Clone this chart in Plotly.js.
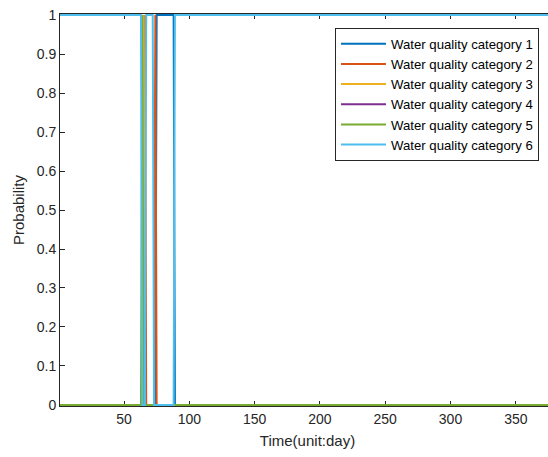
<!DOCTYPE html>
<html>
<head>
<meta charset="utf-8">
<script src="https://cdn.plot.ly/plotly-3.0.1.min.js"></script>
<style>
html,body{margin:0;padding:0;overflow:hidden;background:#fff;width:548px;height:457px;}
#chart{width:560px;height:457px;}
</style>
</head>
<body>
<div id="chart"></div>
<script>
// Category names
const names = ["Water quality category 1","Water quality category 2","Water quality category 3",
               "Water quality category 4","Water quality category 5","Water quality category 6"];
// Breakpoints (day, probability) for each category
const cat1Days = [1, 74, 75, 88, 89, 380];
const cat1Prob = [0, 0, 1, 1, 0, 0];
const cat2Days = [1, 65, 66, 67, 73, 74, 75, 380];
const cat2Prob = [0, 0, 1, 0, 0, 1, 0, 0];
const cat3Days = [1, 64, 65, 66, 380];
const cat3Prob = [0, 0, 1, 0, 0];
const cat4Days = [1, 72, 73, 74, 380];
const cat4Prob = [0, 0, 0, 0, 0];
const cat5Days = [1, 63, 64, 65, 380];
const cat5Prob = [0, 0, 1, 0, 0];
const cat6Days = [1, 63, 64, 66, 67, 72, 73, 88, 89, 380];
const cat6Prob = [1, 1, 0, 0, 1, 1, 0, 0, 1, 1];

const xTicks = [50,100,150,200,250,300,350];
const yTicks = [0,0.1,0.2,0.3,0.4,0.5,0.6,0.7,0.8,0.9,1];
const yTickText = ["0","0.1","0.2","0.3","0.4","0.5","0.6","0.7","0.8","0.9","1"];

const colors = ["#0072BD","#D95319","#EDB120","#7E2F8E","#77AC30","#4DBEEE"];
const allDays = [cat1Days,cat2Days,cat3Days,cat4Days,cat5Days,cat6Days];
const allProb = [cat1Prob,cat2Prob,cat3Prob,cat4Prob,cat5Prob,cat6Prob];

const traces = names.map((n,i)=>({
  x: allDays[i], y: allProb[i], name: n, type: "scatter", mode: "lines",
  line: {color: colors[i], width: 2}
}));

const axisColor = "#262626";
const layout = {
  width: 560, height: 457,
  margin: {l: 60, r: 5, t: 14, b: 51},
  paper_bgcolor: "#fff", plot_bgcolor: "#fff",
  font: {family: "Liberation Sans, Arial, sans-serif", color: axisColor, size: 14},
  showlegend: true,
  legend: {
    x: 0.5556, y: 0.965, xanchor: "left", yanchor: "top",
    bgcolor: "#fff", bordercolor: axisColor, borderwidth: 1,
    font: {size: 13.2, color: "#000"}, tracegroupgap: 0, itemwidth: 45
  },
  xaxis: {
    range: [1, 380], tickvals: xTicks, ticktext: xTicks.map(String),
    ticks: "inside", ticklen: 5, tickcolor: axisColor, showline: true, linecolor: axisColor,
    linewidth: 1, mirror: "ticks", showgrid: false, zeroline: false, layer: "below traces",
    tickfont: {size: 14, color: axisColor},
    title: {text: "Time(unit:day)", font: {size: 15, color: axisColor}, standoff: 9}
  },
  yaxis: {
    range: [-0.0026, 1.0026], tickvals: yTicks, ticktext: yTickText,
    ticks: "inside", ticklen: 5, tickcolor: axisColor, showline: true, linecolor: axisColor,
    linewidth: 1, mirror: "ticks", showgrid: false, zeroline: false, layer: "below traces",
    tickfont: {size: 14, color: axisColor},
    title: {text: "Probability", font: {size: 15, color: axisColor}, standoff: 8}
  }
};
Plotly.newPlot("chart", traces, layout, {displayModeBar: false, staticPlot: true});
</script>
</body>
</html>
